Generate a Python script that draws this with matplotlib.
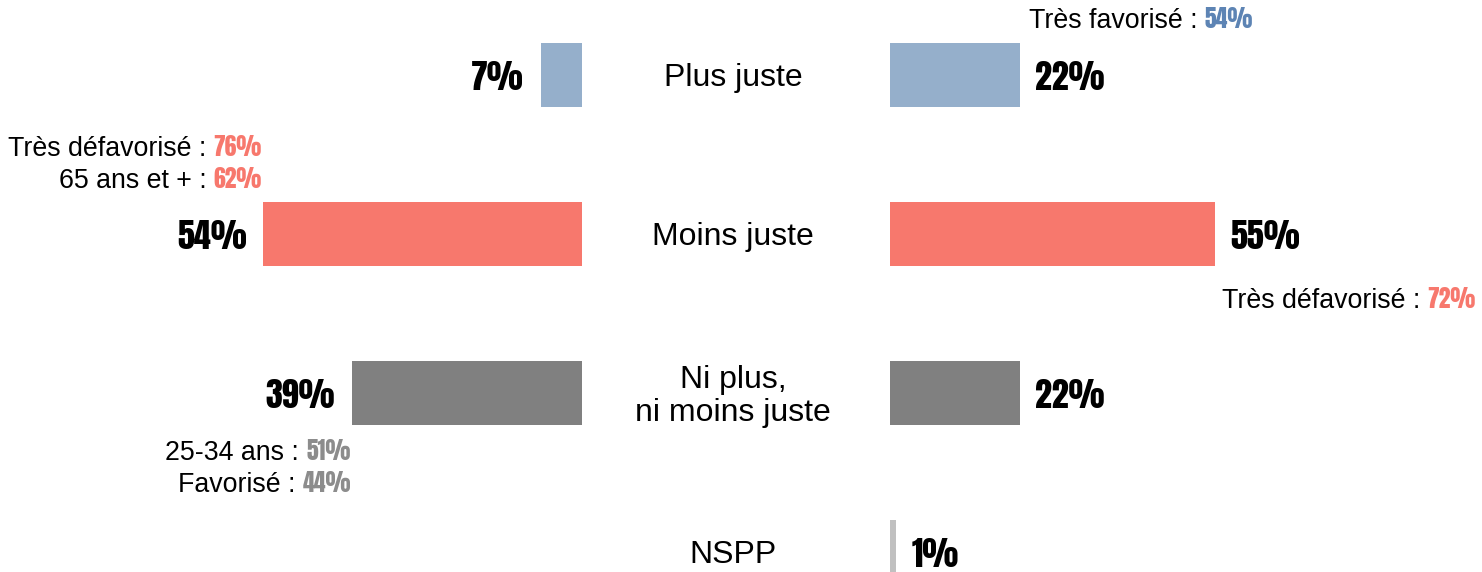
import matplotlib
matplotlib.use("Agg")
import matplotlib.pyplot as plt
from matplotlib import font_manager as fm
from matplotlib.offsetbox import TextArea, HPacker, AnnotationBbox
from matplotlib.transforms import blended_transform_factory

# ---------------- data ----------------
categories = ["Plus juste", "Moins juste", "Ni plus,\nni moins juste", "NSPP"]
left_values = [7, 54, 39, None]
right_values = [22, 55, 22, 1]
bar_colors = ["#95AFCB", "#F7786D", "#808080", "#C0C0C0"]
accent_colors = ["#5D84B4", "#F7786D", "#8C8C8C", "#C0C0C0"]

# sub-group call-outs
callout_labels_left = ["Très défavorisé : ", "65 ans et + : ", "25-34 ans : ", "Favorisé : "]
callout_values_left = [76, 62, 51, 44]
callout_cats_left = [1, 1, 2, 2]
callout_labels_right = ["Très favorisé : ", "Très défavorisé : "]
callout_values_right = [54, 72]
callout_cats_right = [0, 1]

# ---------------- fonts ----------------
names = {f.name for f in fm.fontManager.ttflist}
numfont = "DejaVu Sans"
for cand in ["Anton", "Impact", "Bebas Neue", "Oswald", "Roboto Condensed",
             "Liberation Sans Narrow", "DejaVu Sans Condensed"]:
    if cand in names:
        numfont = cand
        break
txtfont = "Liberation Sans" if "Liberation Sans" in names else "DejaVu Sans"

W, H = 1482, 572
fig = plt.figure(figsize=(W / 100, H / 100), dpi=100)
fig.patch.set_facecolor("white")

px = 5.9  # pixels per percent
left_edge = 582
right_edge = 890
axL = fig.add_axes([0, 0, left_edge / W, 1])
axR = fig.add_axes([right_edge / W, 0, (W - right_edge) / W, 1])

y_top = -75 / 159
y_bot = (H - 75) / 159
axL.set_xlim(left_edge / px, 0)
axR.set_xlim(0, (W - right_edge) / px)
for ax in (axL, axR):
    ax.set_ylim(y_bot, y_top)
    ax.axis("off")

bh = 0.40
num_size = 24.5

for i, (lv, rv) in enumerate(zip(left_values, right_values)):
    if lv is not None:
        axL.barh(i, lv, height=bh, color=bar_colors[i], linewidth=0)
        axL.annotate(f"{lv}%", xy=(lv, i), xytext=(-12, -2), textcoords="offset points",
                     ha="right", va="center", fontsize=num_size,
                     family=numfont, color="black")
    if rv is not None:
        axR.barh(i, rv, height=bh, color=bar_colors[i], linewidth=0)
        axR.annotate(f"{rv}%", xy=(rv, i), xytext=(11, -2), textcoords="offset points",
                     ha="left", va="center", fontsize=num_size,
                     family=numfont, color="black")

# category labels in the middle
trans = blended_transform_factory(fig.transFigure, axL.transData)
for i, c in enumerate(categories):
    axL.annotate(c, xy=(733 / W, i), xycoords=trans, xytext=(0, -2.5),
                 textcoords="offset points", ha="center", va="center",
                 fontsize=23, family=txtfont, color="black", linespacing=1.15,
                 annotation_clip=False)

small_txt = 19.3
small_num = 17


def callout(x_px, y_px, label, value, color):
    t1 = TextArea(label, textprops=dict(fontsize=small_txt, family=txtfont, color="black"))
    t2 = TextArea(f"{value}%", textprops=dict(fontsize=small_num, family=numfont,
                                               color=color))
    pack = HPacker(children=[t1, t2], align="baseline", pad=0, sep=0)
    ab = AnnotationBbox(pack, (x_px / W, 1 - y_px / H), xycoords="figure fraction",
                        box_alignment=(1, 0.5), frameon=False, pad=0)
    fig.add_artist(ab)


# left callouts (right aligned)
left_pos = [(262, 149), (262, 181), (351, 453), (351, 485)]
for (x, y), lab, val, c in zip(left_pos, callout_labels_left, callout_values_left,
                               callout_cats_left):
    callout(x, y, lab, val, accent_colors[c])
# right callouts
right_pos = [(1253, 21), (1476, 300)]
for (x, y), lab, val, c in zip(right_pos, callout_labels_right, callout_values_right,
                               callout_cats_right):
    callout(x, y, lab, val, accent_colors[c])

fig.savefig("out.png", dpi=100, facecolor="white")
